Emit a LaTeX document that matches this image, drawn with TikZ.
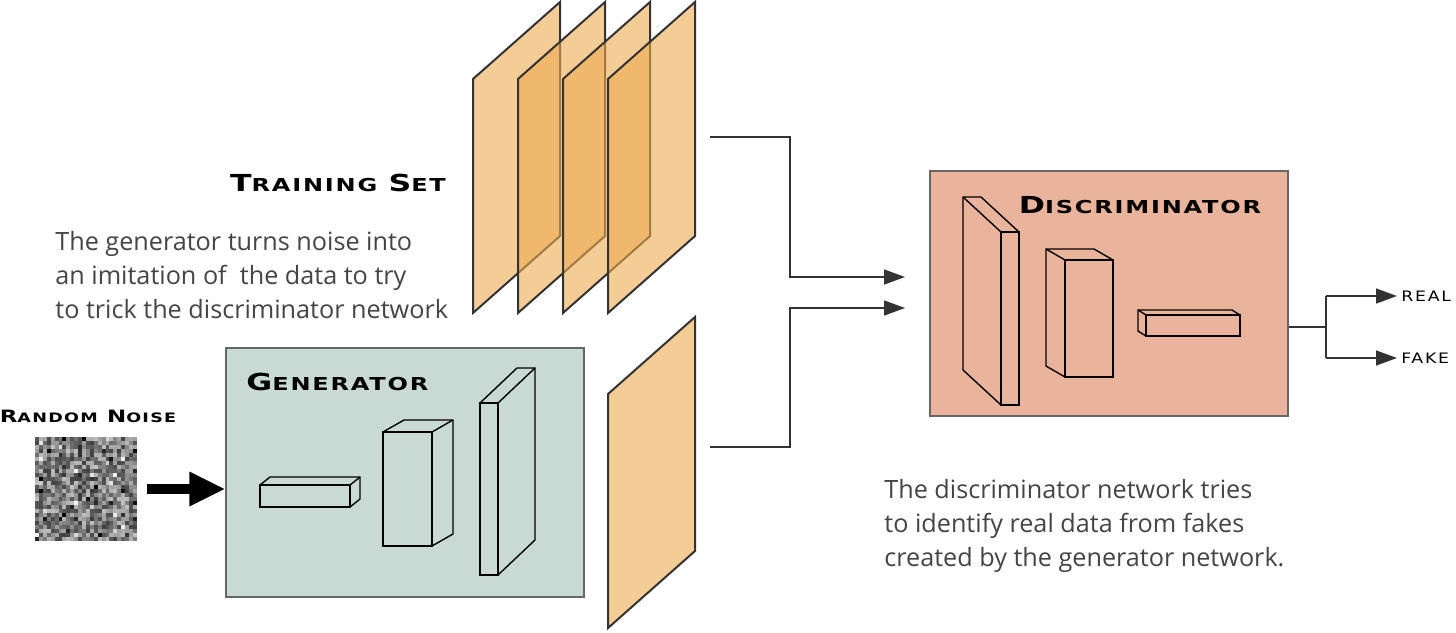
\documentclass[tikz,border=0pt]{standalone}
\usepackage{fontspec}
\setmainfont{Open Sans}
\newfontfamily\capfont{DejaVu Sans}[FakeStretch=1.35, LetterSpace=10]
\newfontfamily\tagfont{DejaVu Sans}[FakeStretch=1.2, LetterSpace=12]
\usetikzlibrary{arrows.meta, positioning}

\definecolor{sheetc}{RGB}{236,170,80}
\definecolor{genc}{RGB}{201,217,211}
\definecolor{discc}{RGB}{234,179,155}
\definecolor{edgec}{RGB}{51,51,51}
\definecolor{textc}{RGB}{68,68,68}

% small caps by hand: size of capital, size of the rest
\newcommand\smcap[4]{{\capfont\bfseries\fontsize{#1}{#1}\selectfont #3\fontsize{#2}{#2}\selectfont #4}}
% one image of the training set
\newcommand\sheet[2]{\draw[sheetstyle] (#1,#2) -- ++(87,-77) -- ++(0,234) -- ++(-87,77) -- cycle;}
% layer blocks: x y w h dx dy
\newcommand\cubr[6]{\draw[block] (#1,#2) rectangle ++(#3,#4);
  \draw[block] (#1,#2) -- ++(#5,#6) -- ++(#3,0) -- ++(0,#4) -- ({#1+#3},{#2+#4});
  \draw[block] ({#1+#3},#2) -- ++(#5,#6);}
\newcommand\cubl[6]{\draw[block] (#1,#2) rectangle ++(#3,#4);
  \draw[block] ({#1+#3},#2) -- ++(#5,#6) -- ++(-#3,0) -- ++(0,#4) -- (#1,{#2+#4});
  \draw[block] (#1,#2) -- ++(#5,#6);}

\begin{document}
\begin{tikzpicture}[x=0.5pt, y=-0.5pt,
    sheetstyle/.style = {draw = edgec, line width = 1pt, fill = sheetc, fill opacity = 0.6},
    box/.style = {draw = black!60, line width = 0.6pt, inner sep = 0pt},
    block/.style = {draw = black, line width = 0.7pt},
    para/.style = {text = textc, align = left, inner sep = 0pt, font = \fontsize{12.6}{17}\selectfont},
    tag/.style = {anchor = west, inner sep = 2pt, font = \tagfont\fontsize{7.2}{7.2}\selectfont},
    conn/.style = {draw = edgec, line width = 0.7pt, -{Triangle[length = 10.5pt, width = 7.5pt]}},
    bigarrow/.style = {line width = 5pt, -{Triangle[length = 18pt, width = 16pt]}}]
  \useasboundingbox (0,0) rectangle (1456,632);

  % training set and the fake image
  \foreach \x in {473, 518, 563, 608} {\sheet{\x}{79}}
  \sheet{608}{394}
  \node (tset) at (338,183) {\smcap{11.7}{8.9}{T}{RAINING}\hspace{3pt} \smcap{11.7}{8.9}{S}{ET}};
  \node[para, anchor = west] (gtext) at (55,275)
    {The generator turns noise into\\an imitation of\ \ the data to try\\to trick the discriminator network};

  % random noise
  \node (noise) [minimum width = 51pt, minimum height = 52pt, inner sep = 0pt] at (86,489) {};
  \pgfmathsetseed{17}
  \foreach \i in {0,...,25} \foreach \j in {0,...,25} {
    \pgfmathsetmacro\g{int(25 + 50*rnd + 25*(rnd > 0.9) - 20*(rnd > 0.92))}
    \fill[black!\g] ({35 + \i*3.92},{437 + \j*4}) rectangle ++(3.92,4);
  }
  \node (rnoise) at (88,416) {\smcap{8.5}{6.5}{R}{ANDOM}\hspace{2pt} \smcap{8.5}{6.5}{N}{OISE}};

  % generator
  \node[box, fill = genc, minimum width = 179pt, minimum height = 124.5pt] (gen) at (405,472.5) {};
  \node[anchor = west, inner sep = 0pt] (glabel) at (246,382) {\smcap{11.7}{8.9}{G}{ENERATOR}};
  \draw[bigarrow] ([xshift = 5pt]noise.east) -- (gen.west |- noise.east);
  \cubr{260}{485}{90}{22}{10}{-8}
  \cubr{383}{432}{49}{114}{21}{-12}
  \cubr{480}{403}{18}{172}{37}{-35}

  % discriminator
  \node[box, fill = discc, minimum width = 179pt, minimum height = 122.5pt] (disc) at (1109,293.5) {};
  \node (dlabel) at (1140,205) {\smcap{11.7}{8.9}{D}{ISCRIMINATOR}};
  \cubl{1001}{232}{18}{173}{-38}{-35}
  \cubl{1065}{260}{48}{117}{-19}{-11}
  \cubl{1146}{315}{94}{21}{-8}{-5}
  \node[para, anchor = west] (dtext) at (884,526)
    {The discriminator network tries\\to identify real data from fakes\\created by the generator network.};

  % both go into the discriminator
  \coordinate (real in) at (710,137);
  \coordinate (fake in) at (710,447);
  \coordinate (d1) at (905,277);
  \coordinate (d2) at (905,308);
  \draw[conn] (real in) -- ++(80,0) |- (d1);
  \draw[conn] (fake in) -- ++(80,0) |- (d2);

  % verdict
  \node[tag] (real) at (1397,296) {REAL};
  \node[tag] (fake) at (1397,358) {FAKE};
  \coordinate (split) at (1326,327);
  \draw[draw = edgec, line width = 0.7pt] (split -| disc.east) -- (split);
  \draw[draw = edgec, line width = 0.7pt] (split |- real) -- (split |- fake);
  \draw[conn] (split |- real) -- (real.west);
  \draw[conn] (split |- fake) -- (fake.west);
\end{tikzpicture}
\end{document}
